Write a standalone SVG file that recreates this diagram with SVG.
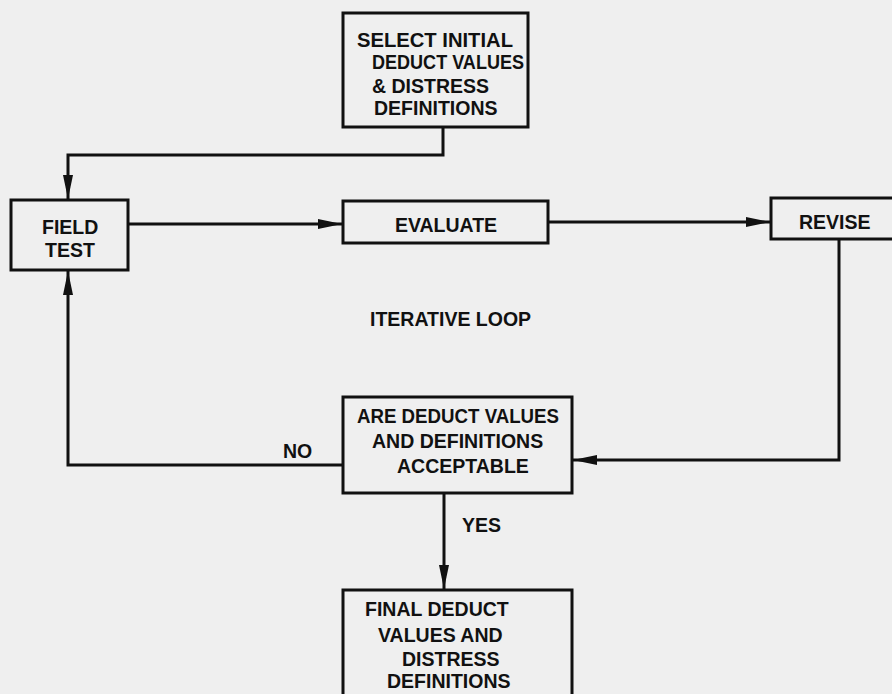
<svg xmlns="http://www.w3.org/2000/svg" width="892" height="694" viewBox="0 0 892 694">
<defs>
<style>
.box{fill:none;stroke:#111;stroke-width:3}
.ln{fill:none;stroke:#111;stroke-width:3}
text{font-family:"Liberation Sans",Arial,sans-serif;font-weight:bold;font-size:19.5px;fill:#111}
</style>
<marker id="ah" viewBox="0 0 24 12" refX="24" refY="6" markerWidth="24" markerHeight="12" markerUnits="userSpaceOnUse" orient="auto">
<path d="M0,1 L24,6 L0,11 Z" fill="#111"/>
</marker>
</defs>
<rect width="892" height="694" fill="#efefef"/>
<g id="connectors">
<polyline class="ln" points="443,127 443,155 68,155 68,199" marker-end="url(#ah)"/>
<line class="ln" x1="128" y1="224" x2="342" y2="224" marker-end="url(#ah)"/>
<line class="ln" x1="548" y1="222" x2="770" y2="222" marker-end="url(#ah)"/>
<polyline class="ln" points="839,239 839,460 573,460" marker-end="url(#ah)"/>
<polyline class="ln" points="343,465 68,465 68,271" marker-end="url(#ah)"/>
<line class="ln" x1="444" y1="493" x2="444" y2="589" marker-end="url(#ah)"/>
<text x="283" y="458">NO</text>
<text x="462" y="532">YES</text>
</g>
<g id="select">
<rect class="box" x="343" y="13" width="185" height="114"/>
<text x="357" y="47" textLength="156" lengthAdjust="spacingAndGlyphs">SELECT INITIAL</text>
<text x="372" y="69" textLength="152" lengthAdjust="spacingAndGlyphs">DEDUCT VALUES</text>
<text x="372" y="93">&amp; DISTRESS</text>
<text x="374" y="115">DEFINITIONS</text>
</g>
<g id="fieldtest">
<rect class="box" x="11" y="200" width="117" height="70"/>
<text x="42" y="234">FIELD</text>
<text x="45" y="257">TEST</text>
</g>
<g id="evaluate">
<rect class="box" x="343" y="201" width="205" height="42"/>
<text x="446" y="232" text-anchor="middle">EVALUATE</text>
</g>
<g id="revise">
<rect class="box" x="771" y="198" width="125" height="41"/>
<text x="799" y="229">REVISE</text>
</g>
<g id="loop">
<text x="370" y="326">ITERATIVE LOOP</text>
</g>
<g id="decision">
<rect class="box" x="343" y="397" width="229" height="96"/>
<text x="357" y="423" textLength="202" lengthAdjust="spacingAndGlyphs">ARE DEDUCT VALUES</text>
<text x="372" y="448">AND DEFINITIONS</text>
<text x="397" y="473">ACCEPTABLE</text>
</g>
<g id="final">
<rect class="box" x="343" y="590" width="229" height="110"/>
<text x="365" y="616">FINAL DEDUCT</text>
<text x="378" y="642">VALUES AND</text>
<text x="402" y="666">DISTRESS</text>
<text x="387" y="688">DEFINITIONS</text>
</g>
</svg>
